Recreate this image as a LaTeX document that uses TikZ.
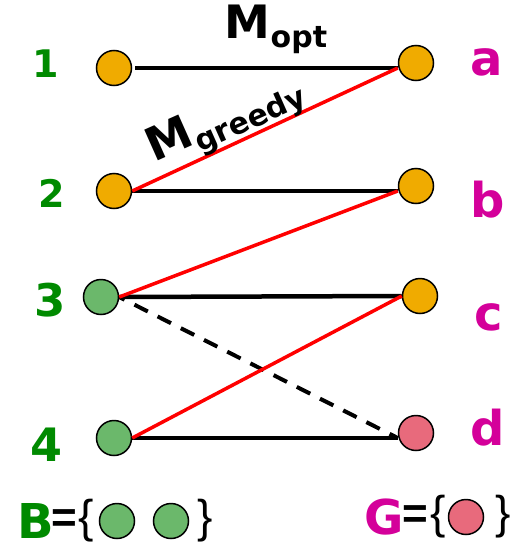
\documentclass[tikz,border=0pt]{standalone}
\usepackage{fontspec}
\setmainfont{DejaVu Sans}
\newfontfamily\narrowfont{Liberation Sans}
\usetikzlibrary{positioning}
\definecolor{vorange}{HTML}{F0AB00}
\definecolor{vgreen}{HTML}{6BB86B}
\definecolor{vpink}{HTML}{E86A7C}
\definecolor{lgreen}{HTML}{008A00}
\definecolor{lmagenta}{HTML}{D4009A}
\newcommand{\fs}[1]{\fontsize{#1}{#1}\selectfont}
\newcommand{\matchlab}[2]{#1{\fs{30}\raisebox{-9pt}{#2}}}

\begin{document}
\begin{tikzpicture}[x=1pt, y=-1pt,
    vertex/.style={circle, draw, line width=1.5pt, minimum size=35pt, inner sep=0pt},
    optedge/.style={line width=4.5pt},
    greedyedge/.style={red, line width=3.5pt},
    numlab/.style={text=lgreen, font=\bfseries\fs{38}},
    letlab/.style={text=lmagenta, font=\bfseries\fs{48}},
    setlab/.style={font=\bfseries\fs{48}, inner sep=0pt},
    setsym/.style={font=\narrowfont\fs{46}, inner sep=0pt}]
  \useasboundingbox (0,0) rectangle (528,549);
  % Left vertices
  \node[vertex, fill=vorange] (v1) at (114,68) {};
  \node[vertex, fill=vorange] (v2) at (114,191) {};
  \node[vertex, fill=vgreen] (v3) at (101,297) {};
  \node[vertex, fill=vgreen] (v4) at (114,438) {};
  % Right vertices
  \node[vertex, fill=vorange] (va) at (416,63) {};
  \node[vertex, fill=vorange] (vb) at (416,186) {};
  \node[vertex, fill=vorange] (vc) at (420,296) {};
  \node[vertex, fill=vpink] (vd) at (416,433) {};
  % Vertex labels
  \node[numlab] (l1) at (46,64) {1};
  \node[numlab] (l2) at (52,193) {2};
  \node[numlab, font=\bfseries\fs{45}] (l3) at (50,300) {3};
  \node[numlab, font=\bfseries\fs{46}] (l4) at (47,445) {4};
  \foreach \v/\x/\y in {a/487/62, b/488/200, c/489/317, d/488/428}
    \node[letlab] (l\v) at (\x,\y) {\v};
  % Optimal matching (horizontal edges)
  \coordinate (ea) at (v1 -| va.west);
  \coordinate (eb) at (v2 -| vb.west);
  \coordinate (ed) at (v4 -| vd.west);
  \draw[optedge, shorten <=3pt] (v1.east) -- (ea);
  \draw[optedge] (v2.east) -- (eb);
  \draw[optedge] (v3.east) -- (vc.west);
  \draw[optedge] (v4.east) -- (ed);
  \draw[optedge, line width=4pt, dash pattern=on 15pt off 11pt, dash phase=-17pt]
    (v3.east) -- (ed);
  % Greedy matching
  \draw[greedyedge] (v2.east) -- (ea);
  \draw[greedyedge] (v3.east) -- (eb);
  \draw[greedyedge] (v4.east) -- (vc.west);
  % Matching names
  \node[font=\bfseries\fs{46}] (mopt) at (276,29) {\matchlab{M}{opt}};
  \node[font=\bfseries\fs{46}, rotate=24] (mgreedy) at (226,121) {\matchlab{M}{greedy}};
  % Sets B and G
  \node[setlab, text=lgreen] (bname) at (36,521) {B};
  \node[setlab, font=\narrowfont\bfseries\fs{44}] (beq) at (64,521) {=};
  \node[setsym] (bopen) at (86,521) {\{};
  \node[vertex, fill=vgreen] (b1) at (117,521) {};
  \node[vertex, fill=vgreen] (b2) at (171,521) {};
  \node[setsym] (bclose) at (205,521) {\}};
  \node[setlab, text=lmagenta] (gname) at (384,517) {G};
  \node[setlab, font=\narrowfont\bfseries\fs{44}] (geq) at (415,517) {=};
  \node[setsym] (gopen) at (438,517) {\{};
  \node[vertex, fill=vpink] (g1) at (466,517) {};
  \node[setsym] (gclose) at (503,517) {\}};
\end{tikzpicture}
\end{document}
